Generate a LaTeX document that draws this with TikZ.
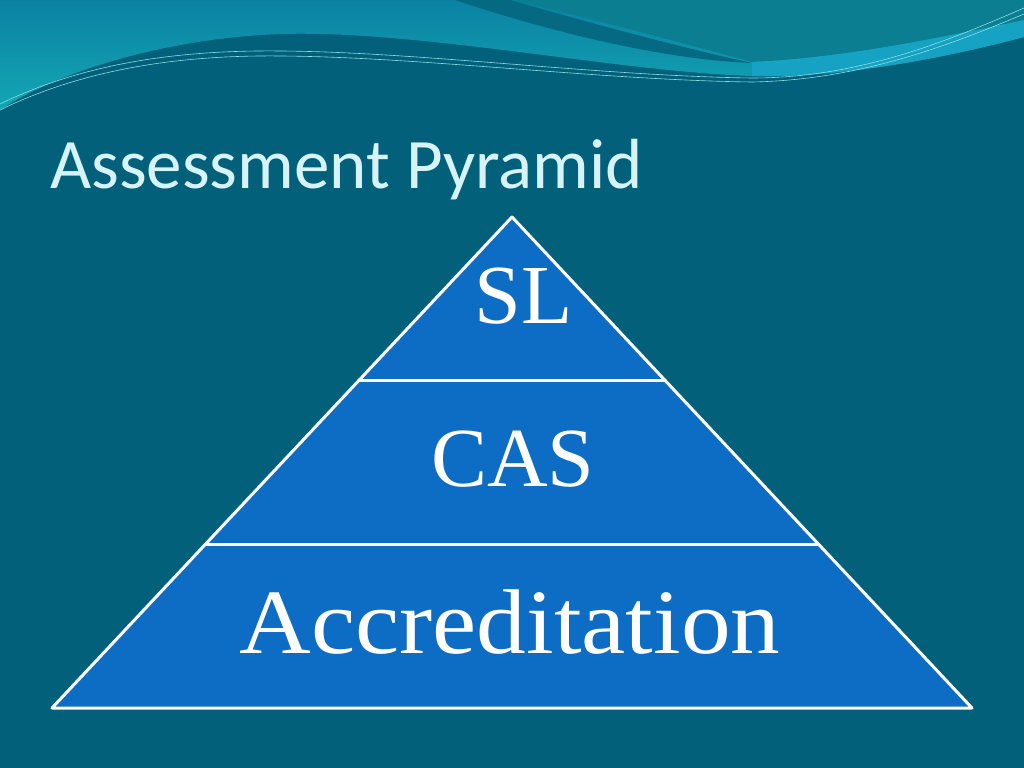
\documentclass[tikz,border=0pt]{standalone}
\usepackage{fontspec}
\usepackage{tikz}
\usetikzlibrary{calc}
\newfontfamily\titlefont{Carlito}
\newfontfamily\tierfont{Liberation Serif}
\newfontfamily\widetierfont[FakeStretch=1.08]{Liberation Serif}
\definecolor{slidebg}{HTML}{03607A}
\definecolor{waveband}{HTML}{0B82A3}
\definecolor{waveleft}{HTML}{13A6B4}
\definecolor{swoosh}{HTML}{066984}
\definecolor{waveright}{HTML}{0B7E92}
\definecolor{wavelight}{HTML}{16A2C2}
\definecolor{waveline}{HTML}{8ADDE3}
\definecolor{tierblue}{HTML}{0D6CC4}
\definecolor{titlecyan}{HTML}{D6F3F7}

\begin{document}
\begin{tikzpicture}[x=1bp, y=-1bp, tier/.style={fill=tierblue, draw=white, line width=3bp, line join=round}, divider/.style={draw=white, line width=3bp}, tiertext/.style={text=white, inner sep=0pt, anchor=base}]
  \useasboundingbox (0,0) rectangle (1024,768);
  % background and the waves on top
  \fill[slidebg] (0,0) rectangle (1024,768);
  \shade[top color=waveband, bottom color=waveleft] (0,0) -- (1024,0) -- (1024,37)
      .. controls (930,62) and (830,78) .. (752,76)
      .. controls (620,72) and (420,30) .. (281,34)
      .. controls (170,38) and (60,70) .. (0,110) -- cycle;
  \fill[waveright] (510,0) -- (1024,0) -- (1024,20)
      .. controls (930,40) and (840,58) .. (752,62)
      .. controls (670,40) and (580,15) .. (510,0) -- cycle;
  \fill[wavelight] (752,62) .. controls (840,58) and (930,40) .. (1024,20) -- (1024,37)
      .. controls (930,62) and (830,78) .. (752,76) -- cycle;
  \fill[swoosh] (455,0) .. controls (560,35) and (670,60) .. (752,63)
      .. controls (670,45) and (580,20) .. (510,0) -- cycle;
  \draw[waveline, line width=0.6bp] (0,104) .. controls (90,60) and (190,50) .. (281,51)
      .. controls (420,52) and (600,76) .. (752,78) .. controls (860,78) and (950,40) .. (1024,8);
  \draw[waveline, line width=0.6bp] (0,110) .. controls (90,66) and (190,55) .. (281,56)
      .. controls (420,57) and (600,80) .. (752,82) .. controls (860,80) and (950,45) .. (1024,14);

  \node[text=titlecyan, anchor=base west, inner sep=0pt] (title) at (50,188)
      {\titlefont\fontsize{71bp}{85bp}\selectfont Assessment Pyramid};

  % pyramid
  \coordinate (apex) at (512,217);
  \coordinate (bl) at (52,708);
  \coordinate (br) at (972,708);
  \coordinate (sl-l) at ($(apex)!0.332!(bl)$);
  \coordinate (sl-r) at ($(apex)!0.332!(br)$);
  \coordinate (cas-l) at ($(apex)!0.668!(bl)$);
  \coordinate (cas-r) at ($(apex)!0.668!(br)$);
  \path[tier] (apex) -- (bl) -- (br) -- cycle;
  \path[divider] (sl-l) -- (sl-r);
  \path[divider] (cas-l) -- (cas-r);

  \node[tiertext] (sl) at (524,323) {\tierfont\fontsize{84bp}{96bp}\selectfont SL};
  \node[tiertext] (cas) at (513,486) {\tierfont\fontsize{84bp}{96bp}\selectfont CAS};
  \node[tiertext] (acc) at (510,653) {\widetierfont\fontsize{92bp}{104bp}\selectfont Accreditation};
\end{tikzpicture}
\end{document}
